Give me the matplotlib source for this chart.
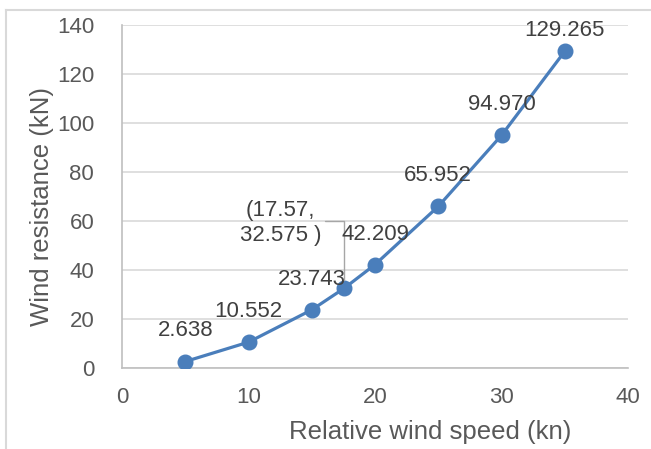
import matplotlib.pyplot as plt
from matplotlib.lines import Line2D

plt.rcParams['font.family'] = ['Liberation Sans', 'DejaVu Sans']

# relative wind speed (kn) vs wind resistance (kN)
speed = [5, 10, 15, 17.57, 20, 25, 30, 35]
resistance = [2.638, 10.552, 23.743, 32.575, 42.209, 65.952, 94.970, 129.265]
point_labels = ["2.638", "10.552", "23.743", "(17.57,\n32.575 )",
                "42.209", "65.952", "94.970", "129.265"]

line_color = "#4A7EBB"
grid_color = "#D9D9D9"
tick_color = "#595959"
label_color = "#404040"

fig = plt.figure(figsize=(6.51, 4.49), dpi=100)
ax = fig.add_axes([0.1874, 0.1804, 0.7773, 0.7639])

ax.plot(speed, resistance, color=line_color, lw=2.3, marker="o",
        markersize=10.5, markerfacecolor=line_color, markeredgecolor=line_color,
        zorder=3)

for x, y, txt in zip(speed, resistance, point_labels):
    if "\n" in txt:
        # moved label, connected back to its point by a leader line
        ax.annotate(txt, (x, y), textcoords="offset points", xytext=(-46, 47),
                    ha="center", va="center", multialignment="center",
                    fontsize=16, color=label_color, linespacing=1.2,
                    arrowprops=dict(arrowstyle="-", color="#A6A6A6", lw=1,
                                    relpos=(1.0, 0.55), shrinkA=1, shrinkB=6,
                                    connectionstyle="angle,angleA=0,angleB=90,rad=0"))
    else:
        # keep the top label inside the plot area
        dy = 15 if y > 120 else 22
        ax.annotate(txt, (x, y), textcoords="offset points", xytext=(0, dy),
                    ha="center", va="center", fontsize=16, color=label_color)

ax.set_xlim(0, 40)
ax.set_ylim(0, 140)
ax.set_xticks(range(0, 41, 10))
ax.set_yticks(range(0, 141, 20))
ax.tick_params(length=0, labelsize=16, labelcolor=tick_color)
ax.tick_params(axis="y", pad=20)
ax.tick_params(axis="x", pad=14)
ax.grid(axis="y", color=grid_color, lw=1.2)
ax.set_axisbelow(True)
for side in ["top", "right"]:
    ax.spines[side].set_visible(False)
ax.spines["left"].set_color("#BFBFBF")
ax.spines["bottom"].set_color("#BFBFBF")
ax.spines["left"].set_linewidth(1.2)
ax.spines["bottom"].set_linewidth(1.2)

fig.text(430 / 651, 1 - 432 / 449, "Relative wind speed (kn)", ha="center",
         va="center", fontsize=18.5, color=tick_color)
fig.text(42 / 651, 1 - 207 / 449, "Wind resistance (kN)", ha="center",
         va="center", rotation=90, fontsize=18.5, color=tick_color)

# chart area border (left and top edges)
fig.add_artist(Line2D([6 / 651, 6 / 651], [0, 1 - 10 / 449],
                      transform=fig.transFigure, color=grid_color, lw=1.5))
fig.add_artist(Line2D([6 / 651, 1], [1 - 10 / 449, 1 - 10 / 449],
                      transform=fig.transFigure, color=grid_color, lw=1.5))

fig.savefig("out.png", dpi=100)
